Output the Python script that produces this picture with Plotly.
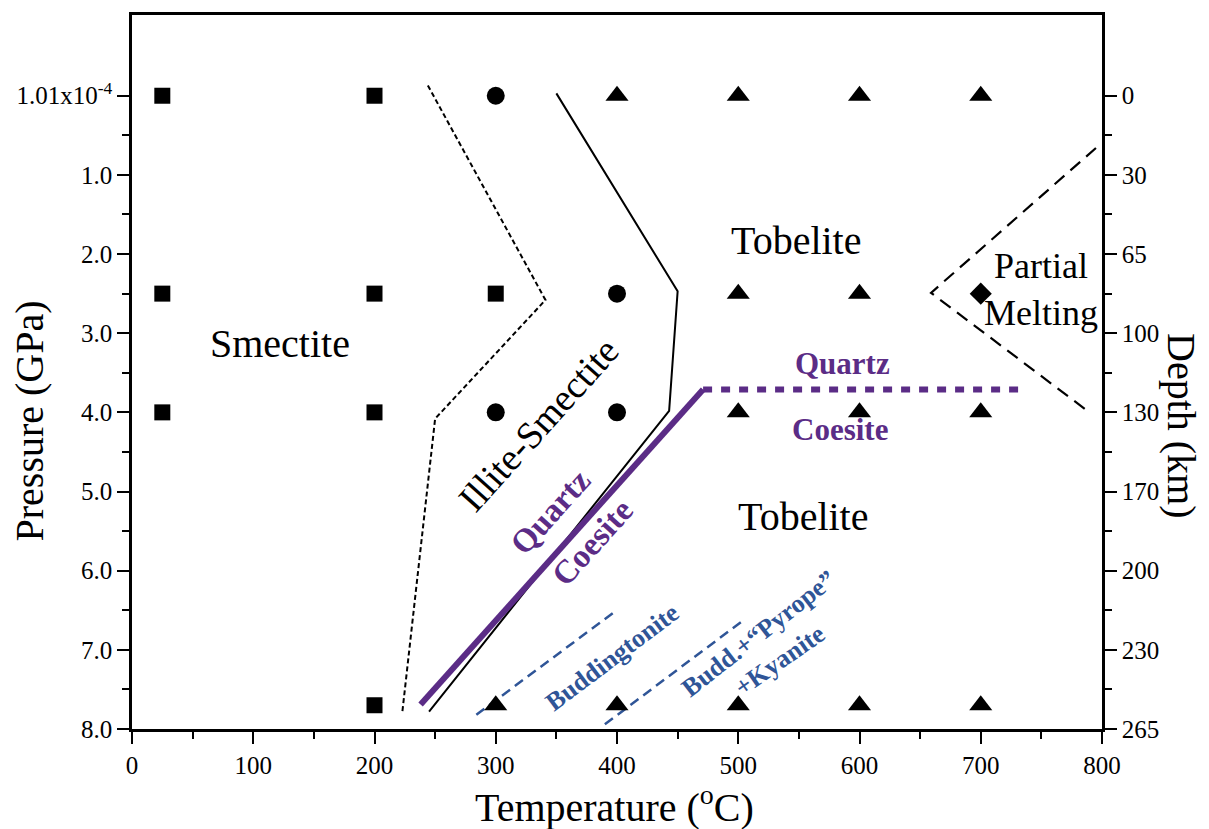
import plotly.graph_objects as go

FONT = "Liberation Serif"
PURPLE = "#5b2c86"
BLUE = "#2f5597"

# Experimental run conditions (temperature in degC, pressure in GPa), grouped by product phase
smectite_T = [25, 200, 25, 200, 300, 25, 200, 200]
smectite_P = [0.0, 0.0, 2.5, 2.5, 2.5, 4.0, 4.0, 7.7]
illite_smectite_T = [300, 400, 300, 400]
illite_smectite_P = [0.0, 2.5, 4.0, 4.0]
tobelite_T = [400, 500, 600, 700, 500, 600, 500, 600, 700, 300, 400, 500, 600, 700]
tobelite_P = [0.0, 0.0, 0.0, 0.0, 2.5, 2.5, 4.0, 4.0, 4.0, 7.7, 7.7, 7.7, 7.7, 7.7]
melt_T = [700]
melt_P = [2.5]

# Phase boundaries
smectite_bound_T = [244, 341, 250, 223]
smectite_bound_P = [-0.13, 2.58, 4.08, 7.78]
illite_bound_T = [350, 450, 443, 245]
illite_bound_P = [-0.03, 2.47, 3.98, 7.78]
qc_slope_T = [238, 471]
qc_slope_P = [7.69, 3.71]
qc_flat_T = [471, 731]
qc_flat_P = [3.71, 3.71]
melting_T = [795, 659, 787]
melting_P = [0.66, 2.49, 3.97]
budd_T = [284, 398]
budd_P = [7.82, 6.52]
pyrope_T = [390, 503]
pyrope_P = [7.94, 6.64]

# Axis ticks
temp_ticks = list(range(0, 801, 100))
temp_minor = list(range(50, 800, 100))
pres_ticks = [0, 1, 2, 3, 4, 5, 6, 7, 8]
pres_labels = ["1.01x10<sup>-4</sup>", "1.0", "2.0", "3.0", "4.0", "5.0", "6.0", "7.0", "8.0"]
pres_minor = [0.5, 1.5, 2.5, 3.5, 4.5, 5.5, 6.5, 7.5]
depth_labels = ["0", "30", "65", "100", "130", "170", "200", "230", "265"]

fig = go.Figure()

def line(x, y, color="black", width=2, dash="solid"):
    fig.add_trace(go.Scatter(x=x, y=y, mode="lines",
                             line=dict(color=color, width=width, dash=dash),
                             hoverinfo="skip", showlegend=False))

line(smectite_bound_T, smectite_bound_P, width=2, dash="5px,3px")
line(illite_bound_T, illite_bound_P, width=2)
line(qc_slope_T, qc_slope_P, color=PURPLE, width=6)
line(qc_flat_T, qc_flat_P, color=PURPLE, width=6, dash="9px,9px")
line(melting_T, melting_P, width=2.2, dash="13px,8px")
line(budd_T, budd_P, color=BLUE, width=2.5, dash="10px,6px")
line(pyrope_T, pyrope_P, color=BLUE, width=2.5, dash="10px,6px")

def pts(x, y, symbol, size):
    fig.add_trace(go.Scatter(x=x, y=y, mode="markers",
                             marker=dict(symbol=symbol, size=size, color="black",
                                         line=dict(width=0)),
                             showlegend=False))

pts(smectite_T, smectite_P, "square", 16)
pts(illite_smectite_T, illite_smectite_P, "circle", 18)
pts(tobelite_T, tobelite_P, "triangle-up", 20)
pts(melt_T, melt_P, "diamond", 17)

# empty trace so the depth axis is drawn
fig.add_trace(go.Scatter(x=[], y=[], yaxis="y2", showlegend=False))

tick_font = dict(family=FONT, size=25, color="black")
axis_common = dict(showgrid=False, zeroline=False, showline=True, linewidth=2.5,
                   linecolor="black", ticks="outside", ticklen=12, tickwidth=2,
                   tickcolor="black", tickfont=tick_font)

fig.update_layout(
    width=1209, height=829,
    margin=dict(l=132, r=107, t=13, b=100),
    paper_bgcolor="white", plot_bgcolor="white",
    xaxis=dict(range=[0, 800], tickmode="array", tickvals=temp_ticks, mirror=True,
               minor=dict(tickmode="array", tickvals=temp_minor, ticks="outside",
                          ticklen=7, tickwidth=2, tickcolor="black"),
               **axis_common),
    yaxis=dict(range=[8.0, -1.02], tickmode="array", tickvals=pres_ticks,
               ticktext=pres_labels,
               minor=dict(tickmode="array", tickvals=pres_minor, ticks="outside",
                          ticklen=7, tickwidth=2, tickcolor="black"),
               **axis_common),
    yaxis2=dict(range=[8.0, -1.02], tickmode="array", tickvals=pres_ticks,
                ticktext=depth_labels, overlaying="y", side="right",
                minor=dict(tickmode="array", tickvals=pres_minor, ticks="outside",
                           ticklen=7, tickwidth=2, tickcolor="black"),
                **axis_common),
)

def label(text, x, y, size=40, color="black", angle=0, bold=False):
    t = f"<b>{text}</b>" if bold else text
    fig.add_annotation(text=t, x=x, y=y, xref="x", yref="y",
                       showarrow=False, textangle=angle,
                       font=dict(family=FONT, size=size, color=color),
                       xanchor="center", yanchor="middle")

label("Smectite", 122, 3.13)
label("Illite-Smectite", 335, 4.16, size=38, angle=-48)
label("Tobelite", 548, 1.83)
label("Tobelite", 554, 5.31)
label("Partial<br>Melting", 750, 2.45, size=36)
label("Quartz", 586, 3.38, size=31, color=PURPLE, bold=True)
label("Coesite", 584, 4.22, size=31, color=PURPLE, bold=True)
label("Quartz", 345, 5.26, size=33, color=PURPLE, bold=True, angle=-48)
label("Coesite", 380, 5.64, size=33, color=PURPLE, bold=True, angle=-48)
label("Buddingtonite", 396, 7.10, size=26, color=BLUE, bold=True, angle=-37)
label("Budd.+\u201cPyrope\u201d", 517, 6.79, size=26, color=BLUE, bold=True, angle=-38)
label("+Kyanite", 534, 7.13, size=26, color=BLUE, bold=True, angle=-35)

# Axis titles
title_font = dict(family=FONT, size=40, color="black")
fig.add_annotation(text="Temperature (<sup>o</sup>C)", x=0.497, y=-0.106,
                   xref="paper", yref="paper", showarrow=False, font=title_font,
                   xanchor="center", yanchor="middle")
fig.add_annotation(text="Pressure (GPa)", x=-0.1052, y=0.432,
                   xref="paper", yref="paper", showarrow=False, font=title_font,
                   textangle=-90, xanchor="center", yanchor="middle")
fig.add_annotation(text="Depth (km)", x=1.082, y=0.425,
                   xref="paper", yref="paper", showarrow=False, font=title_font,
                   textangle=90, xanchor="center", yanchor="middle")

fig.write_html("out.html")
